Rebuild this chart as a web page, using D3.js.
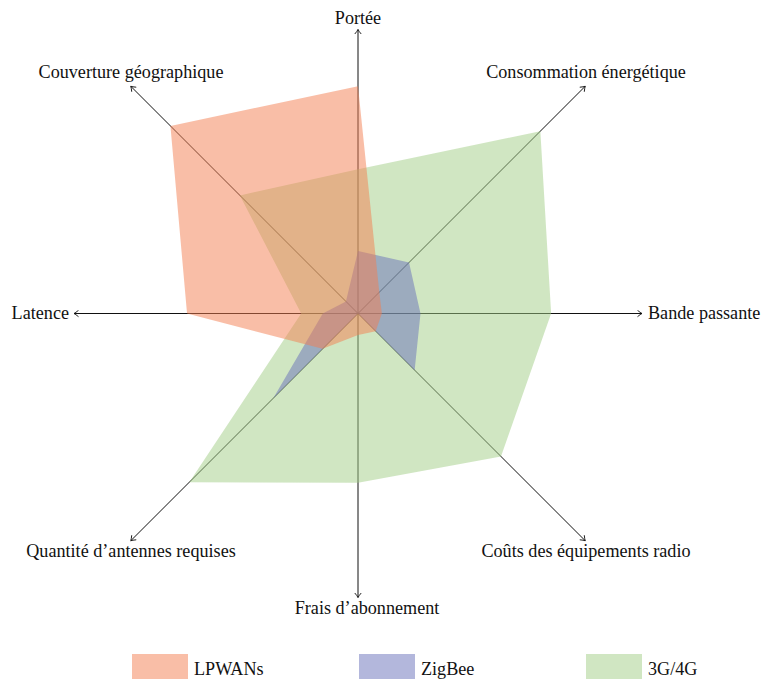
<!DOCTYPE html>
<html>
<head>
<meta charset="utf-8">
<script src="https://cdn.jsdelivr.net/npm/d3@7"></script>
<style>
html,body{margin:0;padding:0;background:#fff;}
svg{display:block;}
</style>
</head>
<body>
<svg id="chart" width="764" height="679"></svg>
<script>
// Axes (clockwise from top)
const axesLabels = ["Portée","Consommation énergétique","Bande passante","Coûts des équipements radio",
  "Frais d’abonnement","Quantité d’antennes requises","Latence","Couverture géographique"];
const axisMax = [5, 5.657, 5, 5.657, 5, 5.657, 5, 5.657];
// Series values (same radial units)
const lpwan  = [4.00, 0.53, 0.42, 0.44, 0.38, 0.88, 3.01, 4.67];
const zigbee = [1.10, 1.27, 1.10, 1.41, 0.00, 2.11, 0.62, 0.30];
const g34    = [2.54, 4.54, 3.40, 3.56, 2.98, 4.20, 1.00, 2.94];
const seriesNames = ["LPWANs","ZigBee","3G/4G"];

const svg = d3.select("#chart");

// pick an installed serif face (detected by width comparison against fallbacks)
const candidates = ["Liberation Serif","DejaVu Serif","Noto Serif","Tinos","Times New Roman","FreeSerif","Nimbus Roman","Nimbus Roman No9 L","Georgia","Times"];
function width(fam){
  const t = svg.append("text").attr("font-size",40).style("font-family",fam).text("Couverture géographique Wmil");
  const w = t.node().getComputedTextLength(); t.remove(); return w;
}
const wMono = width("monospace"), wSans = width("sans-serif");
let chosen = null;
for (const c of candidates){
  if (Math.abs(width(`"${c}", monospace`)-wMono) > 0.5 && Math.abs(width(`"${c}", sans-serif`)-wSans) > 0.5){ chosen = c; break; }
}
const FONT = chosen ? `"${chosen}", serif` : "serif";

const cx = 358, cy = 313.5;
const r = d3.scaleLinear().domain([0,5]).range([0,284]);
const angle = d3.scaleLinear().domain([0, axesLabels.length]).range([-Math.PI/2, 1.5*Math.PI]);
const pt = (v,i) => [cx + r(v)*Math.cos(angle(i)), cy + r(v)*Math.sin(angle(i))];

// font size fitted to the reference label width
const probe = svg.append("text").style("font-family",FONT).attr("font-size",16).text("Couverture géographique");
const w16 = probe.node().getComputedTextLength();
probe.remove();
const FS = Math.max(13, Math.min(20, 16*185/w16));

// arrow marker
svg.append("defs").append("marker")
  .attr("id","arr").attr("viewBox","-6 -4 8 8").attr("refX",0).attr("refY",0)
  .attr("markerWidth",8).attr("markerHeight",8).attr("markerUnits","userSpaceOnUse")
  .attr("orient","auto")
  .append("path").attr("d","M-4.5,-3.2 Q-1.6,-0.8 0,0 Q-1.6,0.8 -4.5,3.2")
  .attr("fill","none").attr("stroke","#111").attr("stroke-width",0.9);

// axes
const gAx = svg.append("g");
axesLabels.forEach((lab,i) => {
  const [x2,y2] = pt(axisMax[i], i);
  gAx.append("line").attr("x1",cx).attr("y1",cy).attr("x2",x2).attr("y2",y2)
    .attr("stroke","#111").attr("stroke-width",1).attr("marker-end","url(#arr)");
});

// polygons: draw green, blue, then orange
const colors = {"LPWANs":"rgb(243,125,79)","ZigBee":"rgb(103,111,185)","3G/4G":"rgb(161,205,133)"};
const line = d3.line().curve(d3.curveLinearClosed);
const gP = svg.append("g");
[[g34,"3G/4G"],[zigbee,"ZigBee"],[lpwan,"LPWANs"]].forEach(([vals,name]) => {
  gP.append("path").attr("d", line(vals.map((v,i)=>pt(v,i))))
    .attr("fill", colors[name]).attr("fill-opacity",0.5).attr("stroke","none");
});

// labels
const labPos = [
  {x:358, y:23.5, a:"middle"},
  {x:586, y:78, a:"middle"},
  {x:648, y:319, a:"start"},
  {x:586, y:557, a:"middle"},
  {x:367, y:614, a:"middle"},
  {x:131, y:557, a:"middle"},
  {x:69, y:319, a:"end"},
  {x:131, y:78, a:"middle"}
];
axesLabels.forEach((lab,i) => {
  svg.append("text").attr("x",labPos[i].x).attr("y",labPos[i].y)
    .style("font-family",FONT).attr("fill","#111")
    .attr("text-anchor",labPos[i].a).attr("font-size",FS).text(lab);
});

// legend
const lx = d3.scalePoint().domain(seriesNames).range([132, 586]);
seriesNames.forEach(n => {
  svg.append("rect").attr("x",lx(n)).attr("y",654).attr("width",56).attr("height",30)
    .attr("fill",colors[n]).attr("fill-opacity",0.5);
  svg.append("text").attr("x",lx(n)+62).attr("y",675).style("font-family",FONT).attr("fill","#111")
    .attr("font-size",FS).text(n);
});
</script>
</body>
</html>
